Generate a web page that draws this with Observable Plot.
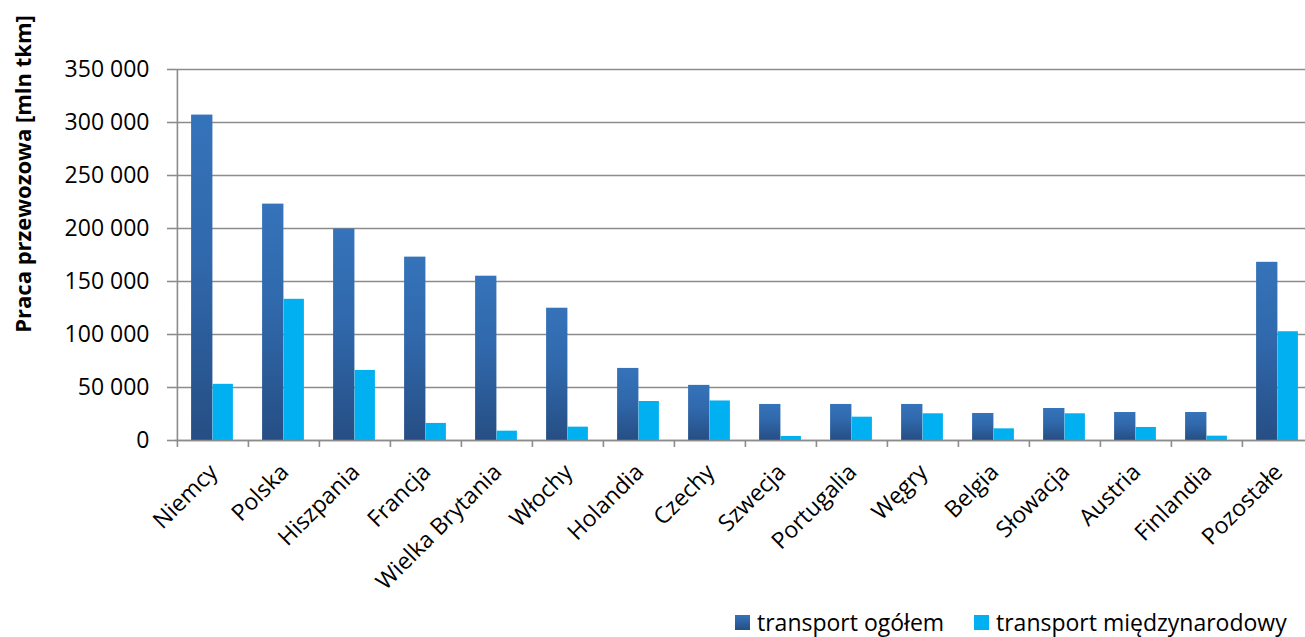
<!DOCTYPE html>
<html><head><meta charset="utf-8">
<script src="https://cdn.jsdelivr.net/npm/d3@7"></script>
<script src="https://cdn.jsdelivr.net/npm/@observablehq/plot@0.6"></script>
<style>
html,body{margin:0;padding:0;background:#fff;overflow:hidden;}
#chart{position:relative;width:1305px;height:637px;font-family:"Open Sans",sans-serif;}
#chart svg{display:block;}
.legend{position:relative;height:37px;width:1305px;}
.legend .item{position:absolute;top:7px;display:flex;align-items:center;font-size:23px;color:#000;line-height:30px;white-space:nowrap;}
.legend .sw{width:15px;height:15px;margin-right:7px;}
</style></head><body><div id="chart"></div>
<script>
const countries = ["Niemcy","Polska","Hiszpania","Francja","Wielka Brytania","Włochy","Holandia","Czechy","Szwecja","Portugalia","Węgry","Belgia","Słowacja","Austria","Finlandia","Pozostałe"];
const transportOgolem = [307000,223000,199500,173000,155000,124800,68000,52000,34000,34000,34000,25500,30200,26400,26400,168100];
const transportMiedzynarodowy = [53000,133200,66100,16100,8800,12600,36800,37300,3800,22000,25200,11000,25200,12300,4100,102600];
const seriesNames = ["transport ogółem","transport międzynarodowy"];
const seriesColors = ["url(#gradTotal)","#00b0f0"];
const yTicks = [0,50000,100000,150000,200000,250000,300000,350000];
const yTitle = "Praca przewozowa [mln tkm]";

const rows = countries.map((c,i)=>({country:c, total:transportOgolem[i], intl:transportMiedzynarodowy[i]}));
const W = 1305, H = 600, left = 175, plotBottom = 440, rightEdge = 1314;
const bw = (rightEdge-left)/countries.length;
const gray = "#8c8c8c";
const fmt = d => d3.format(",")(d).replace(/,/g, " ");
const font = "Open Sans, sans-serif";

const chart = Plot.plot({
  width: W, height: H,
  marginLeft: left, marginRight: 0, marginTop: 69, marginBottom: H - plotBottom,
  style: {fontFamily: font, fontSize: "23px", color: "#000", background: "#fff"},
  x: {domain: countries, range: [left, rightEdge], padding: 0, axis: null, label: null},
  y: {domain: [0, 350000], axis: null, label: null},
  marks: [
    Plot.gridY(yTicks, {stroke: gray, strokeOpacity: 1, strokeWidth: 1.6}),
    Plot.barY(rows, {x: "country", y: "total", fill: seriesColors[0], insetLeft: bw/2 - 21.5, insetRight: bw/2}),
    Plot.barY(rows, {x: "country", y: "intl", fill: seriesColors[1], insetLeft: bw/2, insetRight: bw/2 - 20.5}),
    Plot.ruleY([0], {stroke: gray, strokeWidth: 1.6}),
    Plot.ruleX([countries[0]], {x: d => d, dx: -bw/2, y1: 0, y2: 350000, stroke: gray, strokeWidth: 1.6}),
    Plot.axisX(countries, {tickSize: 7, tickFormat: () => "", dx: -bw/2, stroke: gray, strokeWidth: 1.6, label: null}),
    Plot.axisY(yTicks, {tickSize: 8, tickPadding: 18, tickFormat: fmt, stroke: gray, strokeWidth: 1.6, fill: "#000", fontSize: 23, label: null}),
    Plot.text(countries, {x: d => d, frameAnchor: "bottom", dx: 6, dy: 33, rotate: -45, textAnchor: "end", fontSize: 23, fill: "#000"})
  ]
});

const svg = d3.select(chart);
const defs = svg.insert("defs", ":first-child");
const g = defs.append("linearGradient").attr("id", "gradTotal").attr("x1", 0).attr("y1", 0).attr("x2", 0).attr("y2", 1);
g.append("stop").attr("offset", "0%").attr("stop-color", "#3573ba");
g.append("stop").attr("offset", "45%").attr("stop-color", "#3068ab");
g.append("stop").attr("offset", "100%").attr("stop-color", "#264e84");
svg.append("text")
  .attr("transform", "translate(31,174) rotate(-90)")
  .attr("text-anchor", "middle")
  .attr("font-family", font).attr("font-weight", "bold").attr("font-size", 22)
  .attr("fill", "#000")
  .text(yTitle);

const root = document.getElementById("chart");
root.appendChild(chart);
const legend = document.createElement("div");
legend.className = "legend";
const lefts = [735, 974];
seriesNames.forEach((name, i) => {
  const item = document.createElement("div");
  item.className = "item";
  item.style.left = lefts[i] + "px";
  const sw = document.createElement("span");
  sw.className = "sw";
  sw.style.background = i === 0 ? "linear-gradient(#3573ba,#264e84)" : seriesColors[1];
  const t = document.createElement("span");
  t.textContent = name;
  item.appendChild(sw); item.appendChild(t);
  legend.appendChild(item);
});
root.appendChild(legend);
</script>
</body></html>
